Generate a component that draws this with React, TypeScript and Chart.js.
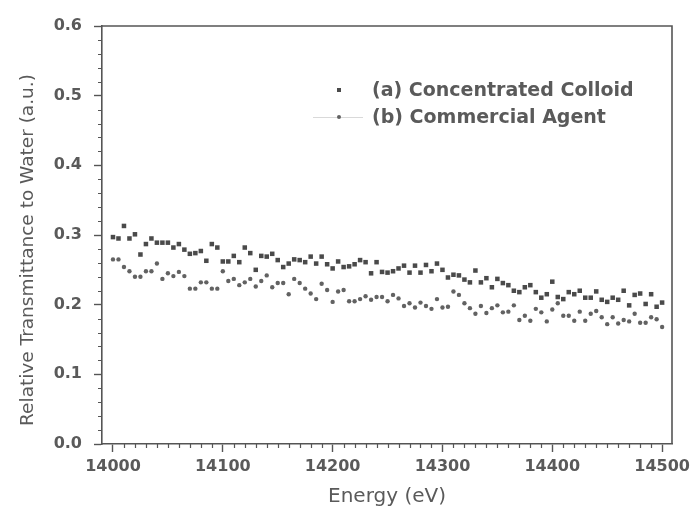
import React, { useEffect, useRef } from "react";
import { Chart, registerables } from "chart.js";

Chart.register(...registerables);

// ---------- data ----------
const energyEV = [
  14000, 14005, 14010, 14015, 14020, 14025, 14030, 14035, 14040, 14045,
  14050, 14055, 14060, 14065, 14070, 14075, 14080, 14085, 14090, 14095,
  14100, 14105, 14110, 14115, 14120, 14125, 14130, 14135, 14140, 14145,
  14150, 14155, 14160, 14165, 14170, 14175, 14180, 14185, 14190, 14195,
  14200, 14205, 14210, 14215, 14220, 14225, 14230, 14235, 14240, 14245,
  14250, 14255, 14260, 14265, 14270, 14275, 14280, 14285, 14290, 14295,
  14300, 14305, 14310, 14315, 14320, 14325, 14330, 14335, 14340, 14345,
  14350, 14355, 14360, 14365, 14370, 14375, 14380, 14385, 14390, 14395,
  14400, 14405, 14410, 14415, 14420, 14425, 14430, 14435, 14440, 14445,
  14450, 14455, 14460, 14465, 14470, 14475, 14480, 14485, 14490, 14495,
  14500,
];

const concentratedColloid = [
  0.297, 0.295, 0.313, 0.295, 0.301, 0.272, 0.287, 0.295, 0.289, 0.289,
  0.289, 0.282, 0.287, 0.279, 0.273, 0.274, 0.277, 0.263, 0.287, 0.282,
  0.262, 0.262, 0.270, 0.261, 0.282, 0.274, 0.250, 0.270, 0.269, 0.273,
  0.264, 0.254, 0.259, 0.265, 0.264, 0.261, 0.269, 0.259, 0.269, 0.258,
  0.252, 0.262, 0.254, 0.255, 0.258, 0.264, 0.261, 0.245, 0.261, 0.247,
  0.246, 0.248, 0.252, 0.256, 0.246, 0.256, 0.246, 0.257, 0.248, 0.259,
  0.250, 0.239, 0.243, 0.242, 0.236, 0.232, 0.249, 0.232, 0.238, 0.225,
  0.237, 0.231, 0.228, 0.220, 0.218, 0.225, 0.228, 0.218, 0.210, 0.215,
  0.233, 0.211, 0.208, 0.218, 0.215, 0.220, 0.210, 0.210, 0.219, 0.207,
  0.204, 0.210, 0.207, 0.220, 0.199, 0.214, 0.216, 0.201, 0.215, 0.197,
  0.203,
];

const commercialAgent = [
  0.265, 0.265, 0.254, 0.248, 0.240, 0.240, 0.248, 0.248, 0.259, 0.237,
  0.245, 0.241, 0.247, 0.241, 0.223, 0.223, 0.232, 0.232, 0.223, 0.223,
  0.248, 0.234, 0.237, 0.228, 0.232, 0.237, 0.226, 0.234, 0.242, 0.225,
  0.231, 0.231, 0.215, 0.237, 0.231, 0.223, 0.216, 0.208, 0.230, 0.221,
  0.204, 0.219, 0.221, 0.205, 0.205, 0.208, 0.212, 0.207, 0.211, 0.211,
  0.205, 0.214, 0.209, 0.198, 0.202, 0.196, 0.203, 0.198, 0.194, 0.208,
  0.196, 0.197, 0.219, 0.214, 0.202, 0.195, 0.187, 0.198, 0.188, 0.195,
  0.199, 0.189, 0.190, 0.199, 0.178, 0.184, 0.177, 0.194, 0.189, 0.176,
  0.193, 0.202, 0.184, 0.184, 0.177, 0.190, 0.177, 0.187, 0.191, 0.182,
  0.172, 0.182, 0.173, 0.178, 0.176, 0.187, 0.174, 0.174, 0.182, 0.179,
  0.168,
];

const seriesLabels = ["(a) Concentrated Colloid", "(b) Commercial Agent"];
const xTickValues = [14000, 14100, 14200, 14300, 14400, 14500];
const yTickValues = [0, 0.1, 0.2, 0.3, 0.4, 0.5, 0.6];
const xMinorStep = 10;
const yMinorStep = 0.02;
const xTitle = "Energy (eV)";
const yTitle = "Relative Transmittance to Water (a.u.)";

// ---------- styles ----------
const AXIS = "#555555";
const TEXT = "#5a5a5a";
const FONT = '"DejaVu Sans", "Liberation Sans", Arial, sans-serif';

const frameAndMinorTicks = {
  id: "frameAndMinorTicks",
  afterDraw(chart: any) {
    const { ctx, chartArea: a, scales } = chart;
    const xs = scales.x;
    const ys = scales.y;
    ctx.save();
    ctx.strokeStyle = AXIS;
    ctx.lineWidth = 1.6;
    ctx.beginPath();
    ctx.moveTo(a.left, a.top);
    ctx.lineTo(a.right, a.top);
    ctx.lineTo(a.right, a.bottom);
    ctx.stroke();

    ctx.lineWidth = 1.2;
    ctx.beginPath();
    const x0 = xTickValues[0];
    const x1 = xTickValues[xTickValues.length - 1];
    const nx = Math.round((x1 - x0) / xMinorStep);
    for (let i = 0; i <= nx; i++) {
      const v = x0 + i * xMinorStep;
      if (xTickValues.includes(v)) continue;
      const px = Math.round(xs.getPixelForValue(v)) + 0.5;
      ctx.moveTo(px, a.bottom);
      ctx.lineTo(px, a.bottom + 4);
    }
    const y0 = yTickValues[0];
    const y1 = yTickValues[yTickValues.length - 1];
    const ny = Math.round((y1 - y0) / yMinorStep);
    for (let i = 0; i <= ny; i++) {
      if (i % 5 === 0) continue;
      const v = y0 + i * yMinorStep;
      const py = Math.round(ys.getPixelForValue(v)) + 0.5;
      ctx.moveTo(a.left, py);
      ctx.lineTo(a.left - 4, py);
    }
    ctx.stroke();

    // y axis title (rotated), placed slightly below the axis centre as in the original
    ctx.fillStyle = TEXT;
    ctx.font = `18.5px ${FONT}`;
    ctx.textAlign = "center";
    ctx.textBaseline = "alphabetic";
    ctx.translate(33, (a.top + a.bottom) / 2 + 15);
    ctx.rotate(-Math.PI / 2);
    ctx.fillText(yTitle, 0, 0);
    ctx.restore();
  },
};

const insideLegend = {
  id: "insideLegend",
  afterDraw(chart: any) {
    const { ctx, chartArea: a } = chart;
    const mx = a.left + 237;
    const tx = a.left + 270;
    const rowY = [a.top + 64, a.top + 91];
    ctx.save();
    ctx.font = `bold 19px ${FONT}`;
    ctx.textBaseline = "middle";
    ctx.textAlign = "left";
    chart.data.datasets.forEach((ds: any, i: number) => {
      const y = rowY[i];
      if (i === 1) {
        ctx.strokeStyle = "#d9d9d9";
        ctx.lineWidth = 1;
        ctx.beginPath();
        ctx.moveTo(mx - 26, y + 0.5);
        ctx.lineTo(mx + 24, y + 0.5);
        ctx.stroke();
      }
      ctx.fillStyle = ds.pointBackgroundColor;
      if (ds.pointStyle === "rect") {
        ctx.fillRect(mx - 2, y - 2, 4, 4);
      } else {
        ctx.beginPath();
        ctx.arc(mx, y, 2, 0, Math.PI * 2);
        ctx.fill();
      }
      ctx.fillStyle = TEXT;
      ctx.fillText(ds.label, tx, y + 1);
    });
    ctx.restore();
  },
};

export default function App() {
  const ref = useRef<HTMLCanvasElement | null>(null);

  useEffect(() => {
    if (!ref.current) return;
    const chart = new Chart(ref.current, {
      type: "scatter",
      data: {
        datasets: [
          {
            label: seriesLabels[0],
            data: energyEV.map((e, i) => ({ x: e, y: concentratedColloid[i] })),
            pointStyle: "rect",
            pointRadius: 3.2,
            pointBackgroundColor: "#4a4a4a",
            pointBorderWidth: 0,
            showLine: false,
          },
          {
            label: seriesLabels[1],
            data: energyEV.map((e, i) => ({ x: e, y: commercialAgent[i] })),
            pointStyle: "circle",
            pointRadius: 2.2,
            pointBackgroundColor: "#626262",
            pointBorderWidth: 0,
            showLine: false,
          },
        ],
      },
      options: {
        responsive: false,
        animation: false,
        layout: { padding: { left: 0, right: 18, top: 26, bottom: 0 } },
        plugins: {
          legend: { display: false },
          tooltip: { enabled: false },
        },
        scales: {
          x: {
            type: "linear",
            min: 13990,
            max: 14509,
            afterBuildTicks: (s: any) => {
              s.ticks = xTickValues.map((v) => ({ value: v }));
            },
            afterFit: (s: any) => {
              s.height = 73;
              s.paddingLeft = 0;
              s.paddingRight = 0;
            },
            border: { display: true, color: AXIS, width: 1.6 },
            grid: {
              display: true,
              drawOnChartArea: false,
              drawTicks: true,
              tickLength: 8,
              tickColor: AXIS,
              tickWidth: 1.4,
            },
            ticks: {
              color: TEXT,
              padding: 5,
              maxRotation: 0,
              autoSkip: false,
              font: { family: FONT, size: 16, weight: "bold" },
              callback: (v: any) => String(v),
            },
            title: {
              display: true,
              text: xTitle,
              color: TEXT,
              font: { family: FONT, size: 20 },
              padding: { top: 0, bottom: 8 },
            },
          },
          y: {
            type: "linear",
            min: 0,
            max: 0.6,
            afterBuildTicks: (s: any) => {
              s.ticks = yTickValues.map((v) => ({ value: v }));
            },
            afterFit: (s: any) => {
              s.width = 102;
              s.paddingTop = 0;
              s.paddingBottom = 0;
            },
            border: { display: true, color: AXIS, width: 1.6 },
            grid: {
              display: true,
              drawOnChartArea: false,
              drawTicks: true,
              tickLength: 8,
              tickColor: AXIS,
              tickWidth: 1.4,
            },
            ticks: {
              color: TEXT,
              padding: 12,
              font: { family: FONT, size: 16, weight: "bold" },
              callback: (v: any) => Number(v).toFixed(1),
            },
            title: { display: false },
          },
        },
      },
      plugins: [frameAndMinorTicks, insideLegend],
    });
    return () => chart.destroy();
  }, []);

  return (
    <div style={{ position: "fixed", left: 0, top: 0, width: 690, height: 517, background: "#fff" }}>
      <canvas ref={ref} width={690} height={517} style={{ display: "block" }} />
    </div>
  );
}
